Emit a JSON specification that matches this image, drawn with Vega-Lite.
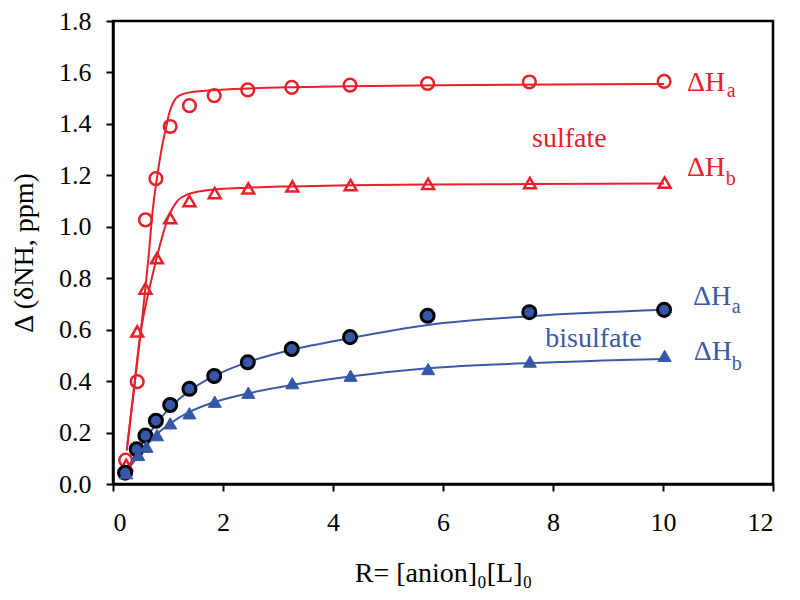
{
  "$schema": "https://vega.github.io/schema/vega-lite/v6.json",
  "width": 660,
  "height": 463,
  "autosize": {"type": "none"},
  "padding": {"left": 113, "top": 21, "right": 27, "bottom": 116},
  "background": "white",
  "config": {
    "view": {"stroke": "black", "strokeWidth": 2.5},
    "font": "'Liberation Serif', serif",
    "axis": {"labelFont": "'Liberation Serif', serif", "titleFont": "'Liberation Serif', serif"},
    "text": {"font": "'Liberation Serif', serif"}
  },
  "datasets": {
    "fits": [
      {"series": "sA", "grp": "red", "x": 0.25, "y": 0.13}, {"series": "sA", "grp": "red", "x": 0.40, "y": 0.40}, {"series": "sA", "grp": "red", "x": 0.53, "y": 0.64}, {"series": "sA", "grp": "red", "x": 0.645, "y": 0.88}, {"series": "sA", "grp": "red", "x": 0.72, "y": 1.06}, {"series": "sA", "grp": "red", "x": 0.80, "y": 1.19}, {"series": "sA", "grp": "red", "x": 0.89, "y": 1.31}, {"series": "sA", "grp": "red", "x": 0.97, "y": 1.39}, {"series": "sA", "grp": "red", "x": 1.02, "y": 1.44}, {"series": "sA", "grp": "red", "x": 1.10, "y": 1.485}, {"series": "sA", "grp": "red", "x": 1.22, "y": 1.512}, {"series": "sA", "grp": "red", "x": 1.44, "y": 1.524}, {"series": "sA", "grp": "red", "x": 1.68, "y": 1.529}, {"series": "sA", "grp": "red", "x": 2.2, "y": 1.536}, {"series": "sA", "grp": "red", "x": 3.0, "y": 1.541}, {"series": "sA", "grp": "red", "x": 4.3, "y": 1.546}, {"series": "sA", "grp": "red", "x": 6.0, "y": 1.55}, {"series": "sA", "grp": "red", "x": 8.0, "y": 1.553}, {"series": "sA", "grp": "red", "x": 10.02, "y": 1.555},
      {"series": "sB", "grp": "red", "x": 0.26, "y": 0.15}, {"series": "sB", "grp": "red", "x": 0.38, "y": 0.37}, {"series": "sB", "grp": "red", "x": 0.50, "y": 0.586}, {"series": "sB", "grp": "red", "x": 0.62, "y": 0.72}, {"series": "sB", "grp": "red", "x": 0.75, "y": 0.84}, {"series": "sB", "grp": "red", "x": 0.88, "y": 0.95}, {"series": "sB", "grp": "red", "x": 1.01, "y": 1.04}, {"series": "sB", "grp": "red", "x": 1.16, "y": 1.098}, {"series": "sB", "grp": "red", "x": 1.35, "y": 1.125}, {"series": "sB", "grp": "red", "x": 1.68, "y": 1.141}, {"series": "sB", "grp": "red", "x": 2.45, "y": 1.152}, {"series": "sB", "grp": "red", "x": 3.25, "y": 1.157}, {"series": "sB", "grp": "red", "x": 4.31, "y": 1.161}, {"series": "sB", "grp": "red", "x": 5.72, "y": 1.164}, {"series": "sB", "grp": "red", "x": 7.57, "y": 1.166}, {"series": "sB", "grp": "red", "x": 10.02, "y": 1.168},
      {"series": "bA", "grp": "blue", "x": 0.24, "y": 0.05}, {"series": "bA", "grp": "blue", "x": 0.44, "y": 0.125}, {"series": "bA", "grp": "blue", "x": 0.59, "y": 0.175}, {"series": "bA", "grp": "blue", "x": 0.78, "y": 0.232}, {"series": "bA", "grp": "blue", "x": 1.04, "y": 0.298}, {"series": "bA", "grp": "blue", "x": 1.39, "y": 0.362}, {"series": "bA", "grp": "blue", "x": 1.84, "y": 0.42}, {"series": "bA", "grp": "blue", "x": 2.45, "y": 0.474}, {"series": "bA", "grp": "blue", "x": 3.25, "y": 0.522}, {"series": "bA", "grp": "blue", "x": 4.31, "y": 0.567}, {"series": "bA", "grp": "blue", "x": 5.72, "y": 0.618}, {"series": "bA", "grp": "blue", "x": 7.57, "y": 0.652}, {"series": "bA", "grp": "blue", "x": 10.02, "y": 0.677},
      {"series": "bB", "grp": "blue", "x": 0.24, "y": 0.045}, {"series": "bB", "grp": "blue", "x": 0.44, "y": 0.105}, {"series": "bB", "grp": "blue", "x": 0.59, "y": 0.145}, {"series": "bB", "grp": "blue", "x": 0.78, "y": 0.19}, {"series": "bB", "grp": "blue", "x": 1.04, "y": 0.235}, {"series": "bB", "grp": "blue", "x": 1.39, "y": 0.28}, {"series": "bB", "grp": "blue", "x": 1.84, "y": 0.318}, {"series": "bB", "grp": "blue", "x": 2.45, "y": 0.352}, {"series": "bB", "grp": "blue", "x": 3.25, "y": 0.385}, {"series": "bB", "grp": "blue", "x": 4.31, "y": 0.418}, {"series": "bB", "grp": "blue", "x": 5.72, "y": 0.45}, {"series": "bB", "grp": "blue", "x": 7.57, "y": 0.47}, {"series": "bB", "grp": "blue", "x": 10.02, "y": 0.486}
    ],
    "sulfA": [
      {"x": 0.23, "y": 0.093}, {"x": 0.44, "y": 0.398}, {"x": 0.59, "y": 1.027}, {"x": 0.78, "y": 1.187}, {"x": 1.04, "y": 1.39}, {"x": 1.39, "y": 1.471}, {"x": 1.84, "y": 1.51}, {"x": 2.45, "y": 1.532}, {"x": 3.25, "y": 1.542}, {"x": 4.31, "y": 1.551}, {"x": 5.72, "y": 1.557}, {"x": 7.57, "y": 1.563}, {"x": 10.02, "y": 1.565}
    ],
    "sulfB": [
      {"x": 0.24, "y": 0.074}, {"x": 0.44, "y": 0.593}, {"x": 0.59, "y": 0.76}, {"x": 0.8, "y": 0.878}, {"x": 1.04, "y": 1.034}, {"x": 1.39, "y": 1.10}, {"x": 1.85, "y": 1.131}, {"x": 2.46, "y": 1.149}, {"x": 3.26, "y": 1.157}, {"x": 4.32, "y": 1.162}, {"x": 5.73, "y": 1.167}, {"x": 7.58, "y": 1.17}, {"x": 10.03, "y": 1.172}
    ],
    "bisA": [
      {"x": 0.22, "y": 0.044}, {"x": 0.43, "y": 0.135}, {"x": 0.59, "y": 0.188}, {"x": 0.78, "y": 0.246}, {"x": 1.04, "y": 0.307}, {"x": 1.39, "y": 0.37}, {"x": 1.84, "y": 0.42}, {"x": 2.45, "y": 0.473}, {"x": 3.25, "y": 0.525}, {"x": 4.31, "y": 0.571}, {"x": 5.72, "y": 0.654}, {"x": 7.57, "y": 0.668}, {"x": 10.02, "y": 0.677}
    ],
    "bisB": [
      {"x": 0.24, "y": 0.042}, {"x": 0.46, "y": 0.113}, {"x": 0.61, "y": 0.145}, {"x": 0.8, "y": 0.19}, {"x": 1.04, "y": 0.236}, {"x": 1.39, "y": 0.275}, {"x": 1.85, "y": 0.32}, {"x": 2.46, "y": 0.355}, {"x": 3.26, "y": 0.392}, {"x": 4.32, "y": 0.421}, {"x": 5.73, "y": 0.447}, {"x": 7.58, "y": 0.476}, {"x": 10.03, "y": 0.498}
    ],
    "labels": [
      {"x": 10.436, "y": 1.527, "text": "ΔH", "grp": "red"},
      {"x": 10.436, "y": 1.198, "text": "ΔH", "grp": "red"},
      {"x": 7.62, "y": 1.312, "text": "sulfate", "grp": "red"},
      {"x": 10.545, "y": 0.6965, "text": "ΔH", "grp": "blue"},
      {"x": 10.557, "y": 0.4825, "text": "ΔH", "grp": "blue"},
      {"x": 7.86, "y": 0.534, "text": "bisulfate", "grp": "blue"}
    ],
    "subs": [
      {"x": 11.16, "y": 1.503, "text": "a", "grp": "red"},
      {"x": 11.14, "y": 1.163, "text": "b", "grp": "red"},
      {"x": 11.25, "y": 0.664, "text": "a", "grp": "blue"},
      {"x": 11.25, "y": 0.4436, "text": "b", "grp": "blue"}
    ]
  },
  "encoding": {
    "x": {
      "field": "x", "type": "quantitative",
      "scale": {"domain": [0, 12], "nice": false, "zero": false},
      "axis": {
        "values": [0, 2, 4, 6, 8, 10, 12],
        "title": "R= [anion]₀[L]₀",
        "grid": false,
        "labelFont": "'Liberation Serif', serif", "labelFontSize": 26, "labelColor": "black", "labelPadding": 18,
        "tickColor": "black", "tickSize": 7, "tickWidth": 2,
        "domainColor": "black", "domainWidth": 2.5,
        "titleFont": "'Liberation Serif', serif", "titleFontSize": 28, "titleFontWeight": "normal", "titleColor": "black", "titlePadding": 24
      }
    },
    "y": {
      "field": "y", "type": "quantitative",
      "scale": {"domain": [0, 1.8], "nice": false, "zero": false},
      "axis": {
        "values": [0, 0.2, 0.4, 0.6, 0.8, 1.0, 1.2, 1.4, 1.6, 1.8],
        "format": ".1f",
        "title": "Δ (δNH, ppm)",
        "grid": false,
        "labelFont": "'Liberation Serif', serif", "labelFontSize": 26, "labelColor": "black", "labelPadding": 15,
        "tickColor": "black", "tickSize": 7, "tickWidth": 2,
        "domainColor": "black", "domainWidth": 2.5,
        "titleFont": "'Liberation Serif', serif", "titleFontSize": 28, "titleFontWeight": "normal", "titleColor": "black", "titlePadding": 20
      }
    },
    "color": {"field": "grp", "type": "nominal", "scale": {"domain": ["red", "blue"], "range": ["#e8202a", "#3a5aa8"]}, "legend": null}
  },
  "layer": [
    {
      "data": {"name": "fits"},
      "mark": {"type": "line", "strokeWidth": 2, "interpolate": "monotone"},
      "encoding": {"detail": {"field": "series"}}
    },
    {
      "data": {"name": "sulfA"},
      "mark": {"type": "point", "shape": "circle", "filled": false, "size": 160, "stroke": "#e8202a", "strokeWidth": 2.5, "opacity": 1},
      "encoding": {"color": {"value": "#e8202a"}}
    },
    {
      "data": {"name": "sulfB"},
      "mark": {"type": "point", "shape": "triangle-up", "filled": false, "size": 140, "stroke": "#e8202a", "strokeWidth": 2.5, "opacity": 1},
      "encoding": {"color": {"value": "#e8202a"}}
    },
    {
      "data": {"name": "bisA"},
      "mark": {"type": "point", "shape": "circle", "filled": true, "size": 170, "fill": "#3557a8", "stroke": "black", "strokeWidth": 3, "opacity": 1},
      "encoding": {"color": {"value": "#3557a8"}}
    },
    {
      "data": {"name": "bisB"},
      "mark": {"type": "point", "shape": "triangle-up", "filled": true, "size": 170, "fill": "#3557a8", "stroke": "#3557a8", "strokeWidth": 1, "opacity": 1},
      "encoding": {"color": {"value": "#3557a8"}}
    },
    {
      "data": {"name": "labels"},
      "mark": {"type": "text", "align": "left", "baseline": "alphabetic", "font": "'Liberation Serif', serif", "fontSize": 28, "clip": false},
      "encoding": {"text": {"field": "text"}}
    },
    {
      "data": {"name": "subs"},
      "mark": {"type": "text", "align": "left", "baseline": "alphabetic", "font": "'Liberation Serif', serif", "fontSize": 20, "clip": false},
      "encoding": {"text": {"field": "text"}}
    }
  ]
}
